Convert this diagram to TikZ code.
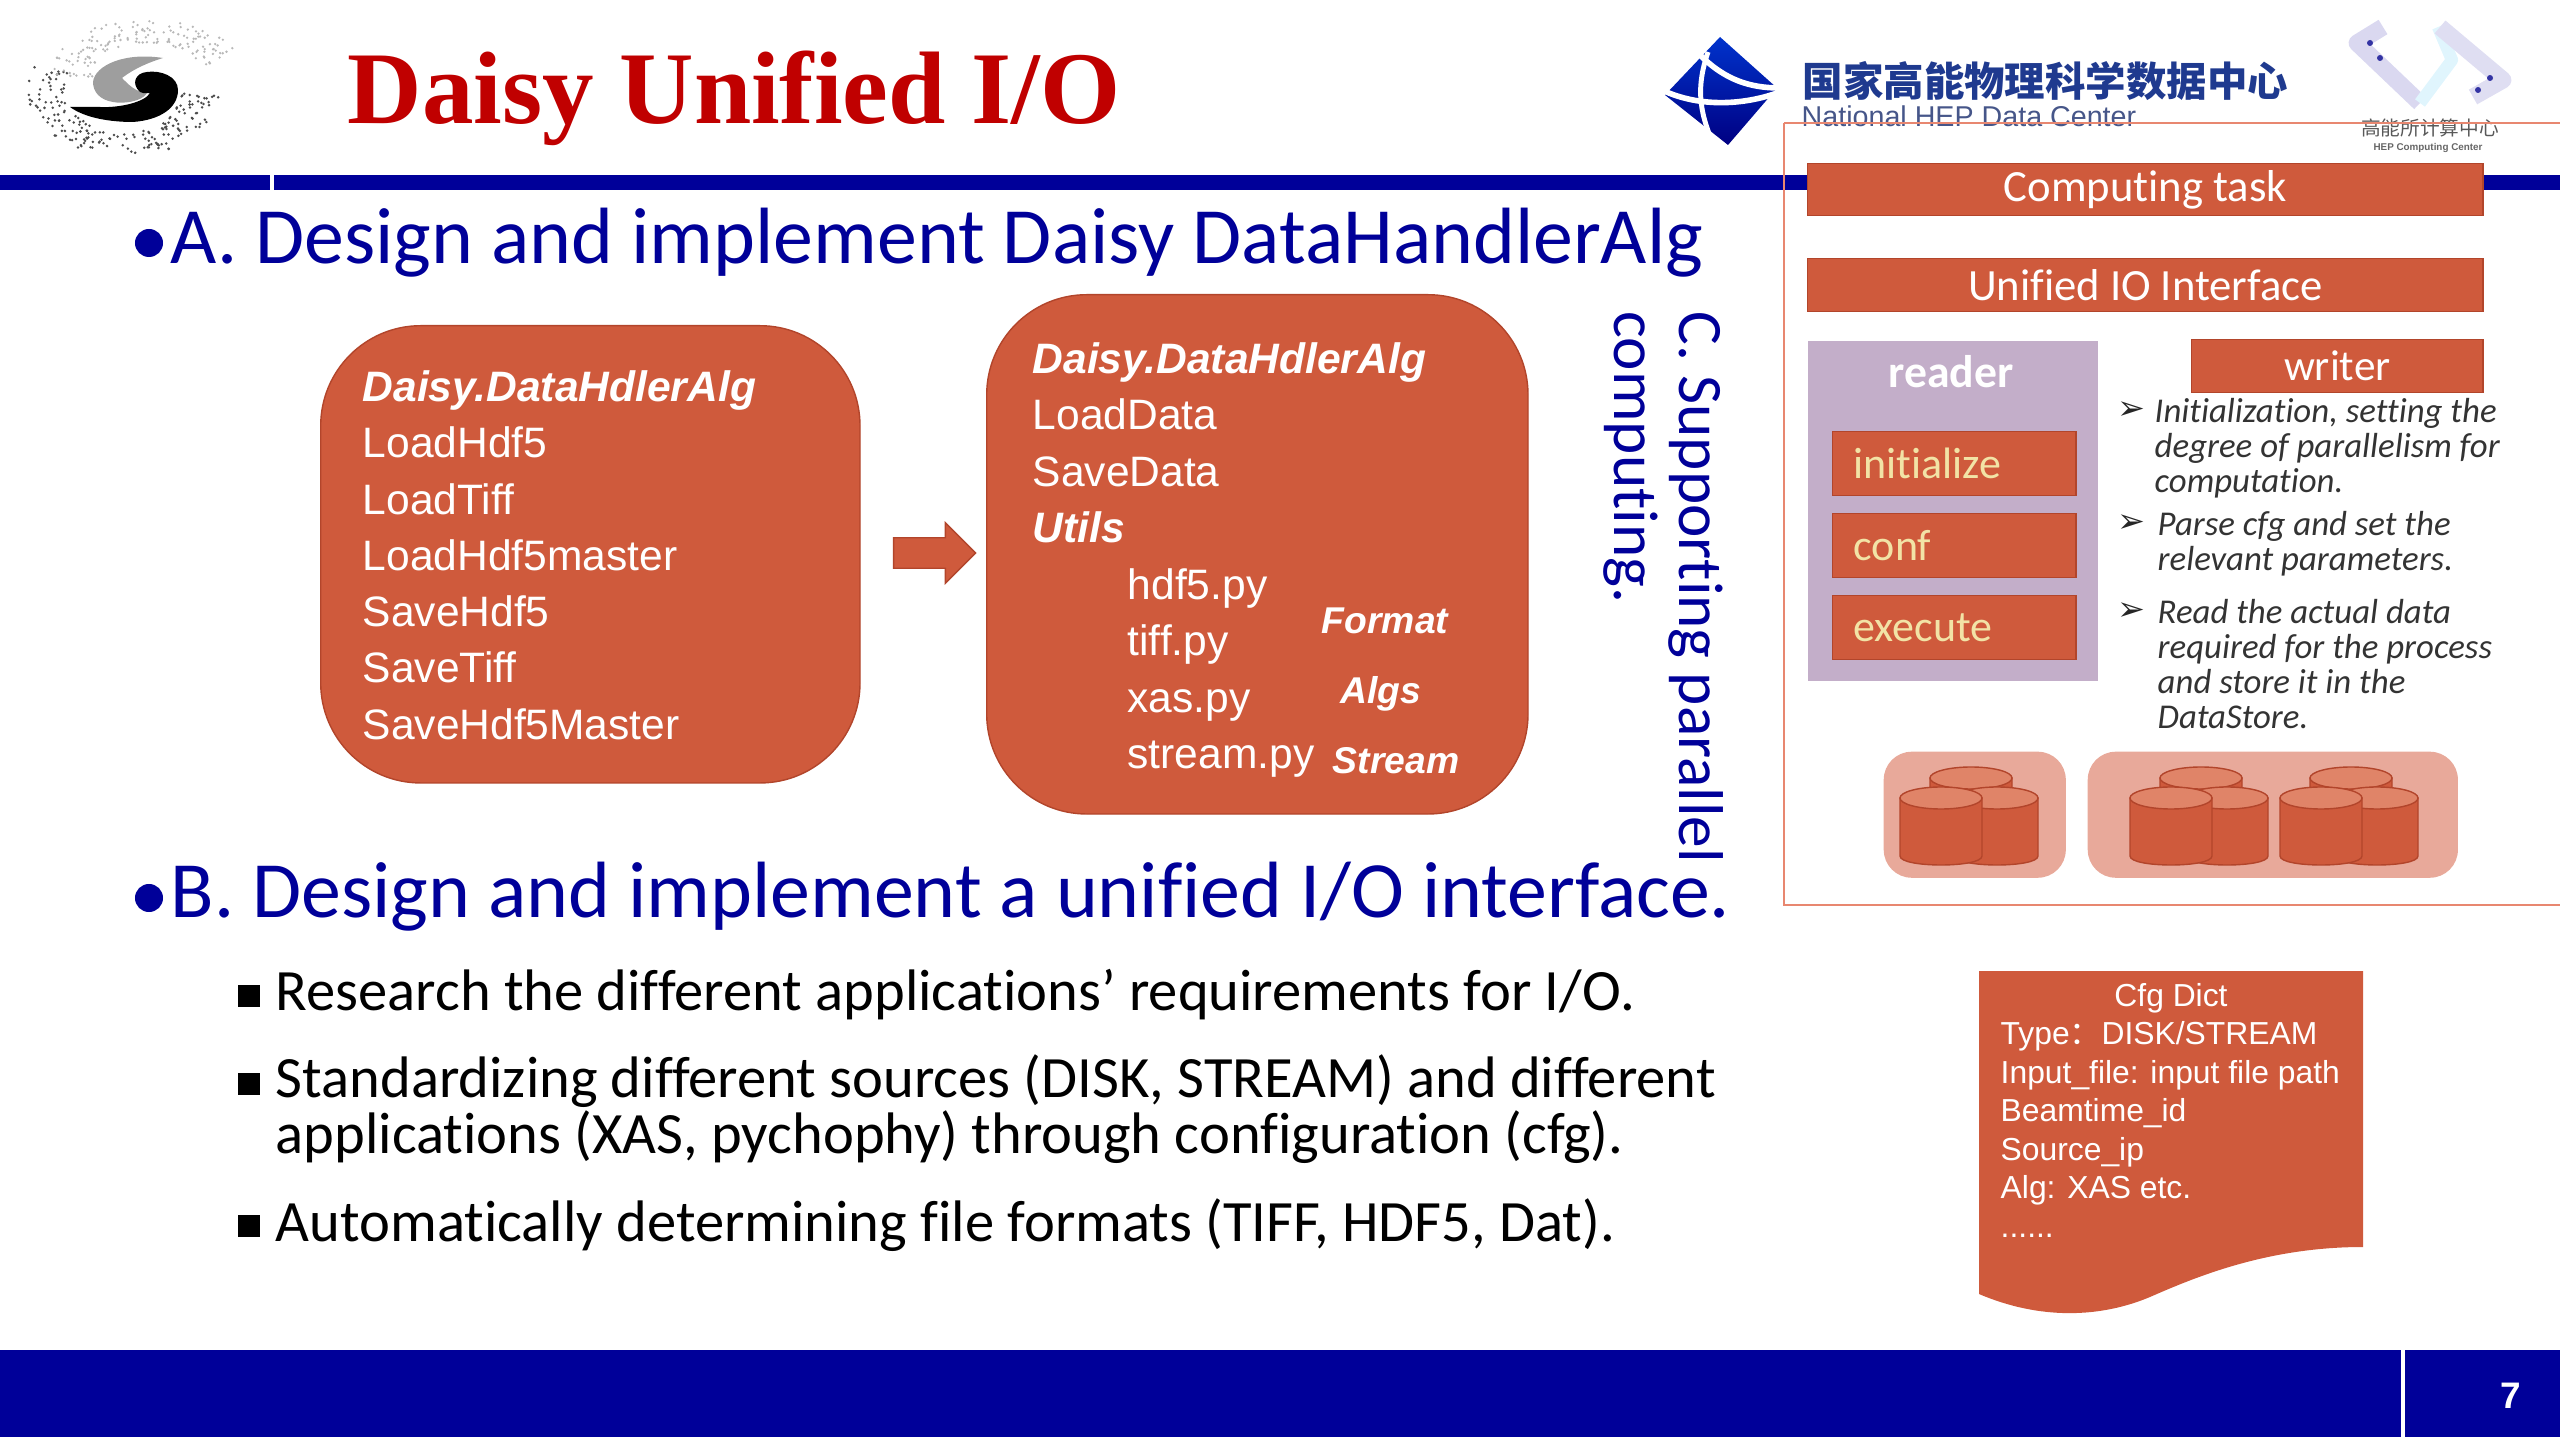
\documentclass[tikz,border=0pt]{standalone}
\usepackage{fontspec}
\setmainfont{Carlito}[Ligatures=NoCommon]
\newfontfamily\arialfont{Liberation Sans}
\newfontfamily\timesfont{Liberation Serif}
\newfontfamily\cjkfont{Noto Sans CJK SC}
\newfontfamily\symbolfont{DejaVu Sans}
\usetikzlibrary{calc, positioning, shapes.arrows}
\definecolor{barblue}{HTML}{000099}
\definecolor{titlered}{HTML}{C00000}
\definecolor{boxorange}{HTML}{CF5A3C}
\definecolor{boxedge}{HTML}{B2452B}
\definecolor{paleorange}{HTML}{E8A99A}
\definecolor{cantop}{HTML}{E08468}
\definecolor{framered}{HTML}{E88770}
\definecolor{readerlilac}{HTML}{C3AEC9}
\definecolor{paleyellow}{HTML}{F2E3A6}
\definecolor{logoblue}{HTML}{1F3A8F}
\begin{document}
\begin{tikzpicture}[
        x=0.01cm, y=-0.01cm,
        every node/.style={inner sep=0pt},
        heading/.style={anchor=base west, text=barblue, font=\fontsize{22.7}{26}\selectfont},
        bodyline/.style={anchor=base west, text=black, align=left, font=\fontsize{16.65}{16.65}\selectfont},
        roundbox/.style={rectangle, anchor=north west, fill=boxorange, draw=boxedge, thin, rounded corners=1cm},
        listtext/.style={anchor=north west, text=white, align=left, font=\arialfont\fontsize{12.1}{16}\selectfont},
        tagtext/.style={anchor=center, text=white, font=\arialfont\bfseries\itshape\fontsize{10.6}{12}\selectfont},
        orangebox/.style={rectangle, anchor=north west, fill=boxorange, draw=boxedge, text=white, font=\fontsize{12.7}{15}\selectfont},
        stepbox/.style={orangebox, minimum width=2.43cm, minimum height=0.64cm, text=paleyellow, text width=2.01cm, align=left, font=\fontsize{12.5}{15}\selectfont},
        noteline/.style={anchor=north west, text=black!80, align=left, font=\itshape\fontsize{9.9}{9.95}\selectfont},
        notemark/.style={anchor=base west, text=black!85, font=\symbolfont\fontsize{9.5}{10}\selectfont},
        panel/.style={rectangle, anchor=north west, fill=paleorange, rounded corners=0.28cm},
        bulletdot/.style={circle, fill=barblue, minimum size=0.28cm},
        bulletbox/.style={rectangle, fill=black, minimum size=0.22cm},
        dbcan/.pic={
            \draw[boxedge, fill=boxorange] (0,0) -- (0,58) .. controls (0,70) and (82,70) .. (82,58) -- (82,0) -- cycle;
            \draw[boxedge, fill=cantop] (41,0) ellipse (41 and 11);
        }
    ]
    \useasboundingbox (0,0) rectangle (2560,1440);

    % header
    \fill[barblue] (0,175) rectangle (2560,190);
    \fill[white] (270,173) rectangle (274,191);
    \fill[barblue] (0,1350) rectangle (2560,1437);
    \fill[white] (2401,1350) rectangle (2405,1437);
    \node[anchor=base west, text=titlered, font=\timesfont\bfseries\fontsize{29.3}{32}\selectfont] (title) at (347,124) {Daisy Unified I/O};
    \node[anchor=center, text=white, font=\arialfont\bfseries\fontsize{10.5}{12}\selectfont] (pagenum) at (2511,1396) {7};

    % swirl logo
    \pgfmathsetseed{11}
    \foreach \i in {1,...,190}{
        \pgfmathsetmacro\ang{rnd*200+5}
        \pgfmathsetmacro\rad{58+rnd*36}
        \fill[black!70] ({123+\rad*cos(\ang)*1.02},{90+\rad*sin(\ang)*0.72}) circle (1.4);
    }
    \foreach \i in {1,...,150}{
        \pgfmathsetmacro\ang{190+rnd*175}
        \pgfmathsetmacro\rad{55+rnd*42}
        \fill[black!28] ({147+\rad*cos(\ang-18)*1.0},{73+\rad*sin(\ang-18)*0.55}) circle (1.3);
    }
    \fill[black!38] (93,82) .. controls (95,65) and (125,52) .. (163,58) .. controls (150,62) and (135,68) .. (122,78) .. controls (128,84) and (135,92) .. (147,93) .. controls (142,102) and (122,104) .. (113,102) .. controls (100,100) and (93,92) .. (93,82) -- cycle;
    \fill[black] (70,107) .. controls (85,118) and (110,122) .. (133,122) .. controls (160,120) and (178,108) .. (178,90) .. controls (178,76) and (160,70) .. (147,72) .. controls (135,73) and (131,84) .. (140,92) .. controls (144,94) and (148,93) .. (150,93) .. controls (145,102) and (120,108) .. (100,107) -- cycle;

    % data center logo
    \shade[top color=blue!75!cyan!80!black, bottom color=barblue!85!black] (1720,37) -- (1777,88) -- (1728,145) -- (1665,95) -- cycle;
    \draw[white, line width=1.6pt] (1700,55) .. controls (1725,80) and (1750,88) .. (1780,88);
    \draw[white, line width=1.6pt] (1662,90) .. controls (1700,108) and (1745,105) .. (1780,92);
    \draw[white, line width=1.4pt] (1708,52) .. controls (1695,90) and (1700,115) .. (1716,150);
    \node[anchor=base west, text=logoblue, font=\cjkfont\bfseries\fontsize{11.5}{12}\selectfont] (cntitle) at (1802,97) {国家高能物理科学数据中心};
    \node[anchor=base west, text=logoblue!60!gray, font=\arialfont\fontsize{8.15}{10}\selectfont] (entitle) at (1801,127) {National HEP Data Center};

    % computing center logo
    \draw[cyan!18!blue!14, line width=4.8pt, line join=round] (2383,27) -- (2357,43) -- (2420,103);
    \draw[cyan!12, line width=3.5pt, line join=round] (2420,103) -- (2452,60) -- (2438,27);
    \draw[cyan!20!blue!12, line width=4.8pt, line join=round] (2440,27) -- (2503,80) -- (2473,97);
    \foreach \px/\py in {2370/43, 2380/58, 2490/78, 2478/90}{
        \fill[blue!55!black!80] (\px,\py) circle (3);
    }
    \node[anchor=center, text=black!65, font=\cjkfont\fontsize{5.6}{6}\selectfont] (cncenter) at (2430,128) {高能所计算中心};
    \node[anchor=center, text=black!60, font=\arialfont\bfseries\fontsize{2.8}{3}\selectfont] (encenter) at (2428,148) {HEP Computing Center};

    % part A
    \node[bulletdot] (dota) at (149,243) {};
    \node[heading] (heada) at (170,264) {A. Design and implement Daisy DataHandlerAlg};
    \node[roundbox, minimum width=5.39cm, minimum height=4.57cm] (oldalg) at (320,325) {};
    \node[listtext] (oldlist) at (362,370) {\textbf{\textit{Daisy.DataHdlerAlg}}\\LoadHdf5\\LoadTiff\\LoadHdf5master\\SaveHdf5\\SaveTiff\\SaveHdf5Master};
    \node[roundbox, minimum width=5.41cm, minimum height=5.19cm] (newalg) at (986,294) {};
    \node[listtext] (newlist) at (1032,342) {\textbf{\textit{Daisy.DataHdlerAlg}}\\LoadData\\SaveData\\\textbf{\textit{Utils}}};
    \node[listtext] (utillist) at (1127,568) {hdf5.py\\tiff.py\\xas.py\\stream.py};
    \node[tagtext] (tagformat) at (1385,621) {Format};
    \node[tagtext] (tagalgs) at (1381,694) {Algs};
    \node[tagtext] (tagstream) at (1396,761) {Stream};
    \node[single arrow, fill=boxorange, draw=boxedge, thin, inner ysep=0.145cm, minimum height=0.82cm, minimum width=0.59cm, single arrow head extend=0.15cm, single arrow head indent=0cm, anchor=center] (algarrow) at (927,553) {};

    % part C
    \node[rotate=-90, anchor=north west, text=barblue, align=left, font=\fontsize{18}{18.5}\selectfont] (headc) at (1724,311) {C. Supporting parallel\\computing.};

    % part B
    \node[bulletdot] (dotb) at (149,898) {};
    \node[heading] (headb) at (170,917) {B. Design and implement a unified I/O interface.};
    \node[bulletbox] (marka) at (249,996) {};
    \node[bodyline] (linea) at (275,1010) {Research the different applications’ requirements for I/O.};
    \node[bulletbox] (markb) at (249,1084) {};
    \node[bodyline] (lineb) at (275,1097) {Standardizing different sources (DISK, STREAM) and different};
    \node[bodyline] (linec) at (275,1153) {applications (XAS, pychophy) through configuration (cfg).};
    \node[bulletbox] (markc) at (249,1226) {};
    \node[bodyline] (lined) at (275,1241) {Automatically determining file formats (TIFF, HDF5, Dat).};

    % right frame
    \draw[framered, line width=0.7pt] (1784,123) -- (2560,123) (1784,123) -- (1784,905) -- (2560,905);
    \node[orangebox, minimum width=6.75cm, minimum height=0.52cm] (task) at (1807,163) {Computing task};
    \node[orangebox, minimum width=6.75cm, minimum height=0.53cm] (iface) at (1807,258) {Unified IO Interface};
    \node[rectangle, anchor=north west, fill=readerlilac, minimum width=2.9cm, minimum height=3.4cm] (reader) at (1807,340) {};
    \node[anchor=center, text=white, font=\bfseries\fontsize{13}{15}\selectfont] (readerlabel) at (1951,372) {reader};
    \node[stepbox] (init) at (1832,431) {initialize};
    \node[stepbox] (conf) at (1832,513) {conf};
    \node[stepbox] (exec) at (1832,595) {execute};
    \node[orangebox, minimum width=2.91cm, minimum height=0.53cm, font=\fontsize{12.3}{15}\selectfont] (writer) at (2191,339) {writer};

    % writer notes
    \node[notemark] (marki) at (2117,420) {➢};
    \node[noteline] (notei) at (2154,398) {Initialization, setting the\\degree of parallelism for\\computation.};
    \node[notemark] (markp) at (2117,533) {➢};
    \node[noteline] (notep) at (2157,511) {Parse cfg and set the\\relevant parameters.};
    \node[notemark] (markr) at (2117,621) {➢};
    \node[noteline] (noter) at (2157,599) {Read the actual data\\required for the process\\and store it in the\\DataStore.};

    % storage
    \node[panel, minimum width=1.82cm, minimum height=1.26cm] (panela) at (1883,751) {};
    \node[panel, minimum width=3.7cm, minimum height=1.26cm] (panelb) at (2087,751) {};
    \foreach \gx in {1900,2130,2280}{
        \pic at (\gx+30,778) {dbcan};
        \pic at (\gx+56,798) {dbcan};
        \pic at (\gx,798) {dbcan};
    }

    % cfg sheet
    \fill[boxorange] (1979,971) -- (2363,971) -- (2363,1247) .. controls (2270,1247) and (2200,1275) .. (2150,1297) .. controls (2100,1318) and (2040,1320) .. (1979,1294) -- cycle;
    \node[anchor=base, text=white, font=\arialfont\fontsize{9.05}{11}\selectfont] (cfgtitle) at (2171,1006) {Cfg Dict};
    \node[anchor=north west, text=white, align=left, font=\arialfont\fontsize{9.05}{10.95}\selectfont] (cfglist) at (2000,1021) {Type{\cjkfont：}DISK/STREAM\\Input\_file: input file path\\Beamtime\_id\\Source\_ip\\Alg: XAS etc.\\......};

\end{tikzpicture}
\end{document}
